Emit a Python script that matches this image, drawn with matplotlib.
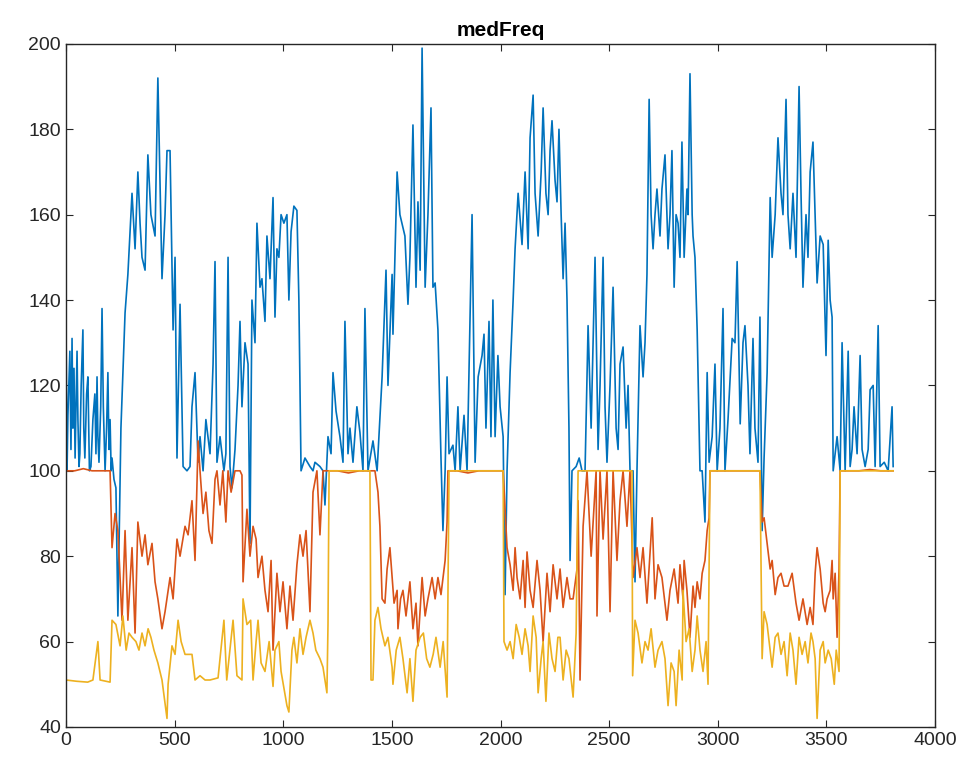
import matplotlib
matplotlib.use("Agg")
import matplotlib.pyplot as plt

# blue series
blue_x = [0, 5, 9, 18, 23, 28, 32, 37, 42, 51, 55, 60, 64, 70, 78, 82, 87, 95, 101, 108,
          115, 124, 133, 138, 143, 147, 152, 160, 166, 172, 180, 187, 193, 198, 203, 208, 212, 221, 230,
          239, 253, 272, 285, 304, 318, 331, 341, 350, 364, 377, 391, 410, 423, 442, 456, 465, 479, 493, 502,
          511, 525, 539, 557, 571, 580, 594, 608, 617, 631, 644, 663, 677, 686, 695, 709, 727, 736, 746, 755,
          764, 778, 792, 801, 810, 824, 838, 847, 856, 870, 879, 893, 902, 916, 925, 939, 953, 962, 971, 980,
          990, 1003, 1017, 1026, 1036, 1049, 1063, 1072, 1082, 1100, 1123, 1137, 1146, 1169, 1183, 1192, 1206, 1220, 1229, 1243,
          1261, 1275, 1284, 1298, 1307, 1321, 1339, 1353, 1367, 1376, 1390, 1413, 1432, 1455, 1473, 1482, 1501, 1505, 1524, 1537,
          1551, 1560, 1574, 1583, 1597, 1611, 1620, 1630, 1639, 1653, 1666, 1680, 1689, 1699, 1712, 1726, 1735, 1745, 1754, 1763,
          1781, 1791, 1804, 1814, 1832, 1846, 1869, 1883, 1897, 1915, 1924, 1933, 1947, 1956, 1965, 1975, 1988, 1998, 2012, 2021,
          2030, 2044, 2058, 2067, 2081, 2099, 2113, 2127, 2136, 2150, 2159, 2173, 2187, 2196, 2209, 2219, 2228, 2237, 2251, 2260,
          2269, 2279, 2288, 2297, 2306, 2315, 2320, 2329, 2348, 2362, 2375, 2389, 2403, 2417, 2435, 2449, 2458, 2472, 2481, 2490,
          2504, 2518, 2532, 2541, 2550, 2564, 2578, 2587, 2596, 2610, 2619, 2628, 2642, 2656, 2665, 2674, 2684, 2693, 2702, 2711,
          2720, 2734, 2743, 2757, 2771, 2780, 2789, 2799, 2808, 2817, 2826, 2835, 2845, 2858, 2863, 2872, 2882, 2886, 2895, 2905,
          2918, 2928, 2941, 2951, 2960, 2974, 2987, 2997, 3010, 3024, 3033, 3047, 3066, 3079, 3089, 3103, 3116, 3125, 3139, 3148,
          3162, 3171, 3185, 3194, 3204, 3213, 3227, 3241, 3250, 3264, 3277, 3291, 3300, 3314, 3323, 3333, 3346, 3360, 3374, 3383,
          3392, 3406, 3415, 3425, 3438, 3448, 3457, 3471, 3485, 3498, 3508, 3517, 3526, 3531, 3540, 3549, 3563, 3572, 3586, 3600,
          3609, 3618, 3627, 3641, 3655, 3664, 3678, 3692, 3701, 3715, 3724, 3738, 3747, 3766, 3784, 3802, 3807]
blue_y = [136, 100, 113, 128, 105, 131, 110, 124, 103, 128, 112, 101, 104, 120, 133, 110, 103, 118, 122, 100,
          101, 112, 118, 104, 122, 108, 102, 115, 138, 115, 100, 110, 123, 105, 112, 100, 103, 98, 96,
          66, 110, 137, 146, 165, 152, 170, 158, 150, 147, 174, 160, 155, 192, 145, 160, 175, 175, 133, 150,
          103, 139, 101, 100, 101, 115, 123, 102, 108, 100, 112, 104, 125, 149, 102, 108, 100, 104, 150, 101,
          96, 105, 120, 135, 115, 130, 125, 83, 140, 130, 158, 143, 145, 135, 155, 145, 164, 136, 152, 150,
          160, 158, 160, 140, 156, 162, 161, 140, 100, 103, 101, 100, 102, 101, 100, 92, 108, 104, 123, 114,
          108, 102, 135, 104, 110, 102, 115, 109, 100, 138, 100, 107, 100, 122, 147, 120, 146, 132, 170, 160,
          157, 155, 139, 150, 181, 143, 163, 147, 199, 143, 160, 185, 143, 144, 133, 103, 86, 100, 122, 104,
          106, 100, 115, 100, 113, 100, 160, 102, 122, 127, 132, 110, 135, 108, 140, 108, 127, 115, 108, 71,
          100, 123, 140, 152, 165, 153, 170, 152, 178, 188, 165, 155, 170, 185, 165, 160, 175, 182, 168, 163,
          180, 160, 145, 158, 140, 110, 79, 100, 101, 103, 100, 100, 134, 110, 150, 105, 120, 150, 115, 102,
          120, 143, 110, 105, 125, 129, 110, 120, 100, 100, 74, 100, 134, 122, 130, 146, 187, 160, 152, 160,
          166, 155, 166, 174, 152, 160, 175, 143, 160, 158, 150, 177, 150, 166, 160, 193, 160, 155, 150, 133,
          100, 100, 88, 123, 102, 108, 125, 100, 110, 138, 100, 112, 131, 130, 149, 111, 130, 134, 120, 104,
          131, 110, 102, 136, 86, 103, 123, 164, 150, 160, 178, 165, 160, 187, 160, 152, 165, 150, 190, 165,
          143, 160, 150, 170, 177, 160, 144, 155, 153, 127, 154, 140, 136, 100, 104, 108, 100, 130, 100, 128,
          101, 105, 115, 104, 127, 105, 101, 105, 119, 120, 101, 134, 101, 102, 100, 115, 101]

# orange series
orange_x = [0, 40, 80, 120, 160, 203, 212, 226, 239, 258, 272, 285, 304, 318, 331, 350, 364, 377, 396, 410,
            423, 442, 456, 479, 493, 511, 525, 548, 562, 580, 594, 608, 617, 631, 644, 658, 672, 686, 695, 709,
            722, 736, 746, 760, 778, 801, 810, 815, 833, 847, 861, 875, 884, 902, 916, 930, 944, 953, 971, 985,
            999, 1017, 1031, 1045, 1063, 1077, 1091, 1105, 1123, 1137, 1155, 1169, 1183, 1250, 1300, 1350, 1422, 1436, 1445, 1455,
            1468, 1478, 1491, 1501, 1510, 1524, 1528, 1540, 1551, 1565, 1583, 1597, 1611, 1620, 1639, 1653, 1666, 1685, 1699, 1712,
            1726, 1745, 1754, 1758, 1800, 1850, 1900, 1950, 2012, 2030, 2044, 2058, 2067, 2076, 2090, 2104, 2113, 2122, 2136, 2150,
            2168, 2182, 2196, 2214, 2228, 2242, 2260, 2274, 2288, 2306, 2320, 2334, 2352, 2357, 2366, 2380, 2398, 2417, 2440, 2444,
            2458, 2472, 2490, 2504, 2518, 2536, 2550, 2564, 2582, 2596, 2610, 2628, 2642, 2656, 2674, 2698, 2711, 2725, 2743, 2766,
            2780, 2799, 2817, 2826, 2840, 2845, 2858, 2872, 2886, 2895, 2905, 2918, 2928, 2941, 2951, 2960, 2964, 3050, 3100, 3194,
            3204, 3213, 3227, 3241, 3250, 3264, 3277, 3291, 3305, 3323, 3342, 3360, 3374, 3392, 3411, 3425, 3438, 3448, 3457, 3471,
            3485, 3494, 3503, 3517, 3526, 3531, 3540, 3549, 3558, 3563, 3650, 3700, 3750, 3807]
orange_y = [100, 100, 100.5, 100, 100, 100, 82, 90, 86, 65, 86, 65, 82, 62, 88, 80, 85, 78, 83, 74,
            70, 63, 67, 75, 70, 84, 80, 87, 85, 93, 79, 107, 100, 90, 95, 86, 83, 98, 100, 92,
            100, 88, 100, 95, 100, 100, 99, 74, 91, 80, 87, 84, 75, 80, 72, 67, 79, 58, 76, 67,
            74, 63, 73, 65, 78, 85, 80, 86, 67, 95, 100, 85, 100, 100, 99.5, 100, 100, 95, 87, 70,
            69, 77, 82, 75, 69, 72, 63, 70, 72, 66, 74, 63, 69, 59, 75, 66, 70, 75, 70, 75,
            71, 79, 88, 100, 100, 99.5, 100, 100, 100, 82, 78, 72, 82, 75, 70, 79, 68, 81, 72, 68,
            79, 72, 60, 76, 67, 78, 70, 77, 68, 75, 70, 70, 77, 93, 51, 87, 100, 80, 100, 66,
            100, 84, 100, 67, 100, 79, 93, 100, 87, 100, 75, 82, 75, 82, 69, 89, 70, 78, 75, 65,
            72, 77, 69, 78, 70, 79, 72, 61, 73, 68, 74, 70, 76, 79, 86, 89, 100, 100, 100, 100,
            88, 89, 83, 77, 79, 71, 75, 76, 73, 73, 76, 69, 65, 70, 64, 68, 64, 76, 82, 77,
            69, 67, 70, 72, 79, 70, 76, 61, 77, 100, 100, 100.3, 100, 100]

# yellow series
yellow_x = [0, 50, 100, 124, 147, 157, 203, 212, 230, 249, 262, 277, 290, 304, 322, 336, 350, 364, 378, 391,
            405, 423, 442, 465, 470, 488, 502, 516, 530, 548, 580, 594, 617, 640, 663, 700, 727, 740, 769, 787,
            810, 815, 833, 850, 861, 875, 884, 898, 916, 935, 953, 962, 980, 990, 1017, 1026, 1040, 1049, 1063, 1077,
            1091, 1105, 1123, 1137, 1150, 1169, 1183, 1201, 1206, 1211, 1300, 1399, 1404, 1413, 1422, 1436, 1450, 1468, 1482, 1501,
            1505, 1520, 1537, 1551, 1570, 1583, 1597, 1611, 1630, 1645, 1660, 1675, 1690, 1703, 1722, 1736, 1754, 1763, 1850, 2012,
            2016, 2030, 2044, 2058, 2072, 2086, 2099, 2113, 2127, 2136, 2150, 2164, 2173, 2187, 2196, 2209, 2223, 2237, 2251, 2264,
            2274, 2288, 2302, 2315, 2334, 2348, 2357, 2450, 2605, 2608, 2619, 2633, 2651, 2665, 2679, 2693, 2711, 2725, 2743, 2757,
            2771, 2785, 2799, 2808, 2822, 2836, 2840, 2854, 2868, 2882, 2895, 2905, 2918, 2932, 2946, 2955, 2964, 3100, 3194, 3204,
            3213, 3227, 3241, 3250, 3264, 3277, 3291, 3305, 3319, 3333, 3346, 3360, 3374, 3388, 3402, 3415, 3429, 3438, 3448, 3457,
            3471, 3485, 3494, 3508, 3522, 3536, 3545, 3558, 3563, 3700, 3807]
yellow_y = [51, 50.7, 50.5, 51, 60, 51, 50.5, 65, 64, 59, 66, 58, 62, 61, 60, 58, 62, 59, 63, 61,
            58, 55, 51, 42, 50, 59, 57, 65, 60, 57, 57, 51, 52, 51, 51, 51.5, 65, 51, 65, 52,
            51, 70, 64, 65, 51, 60, 65, 55, 53, 60, 49.5, 58, 60, 53, 45, 43.5, 58, 61, 55, 63,
            57, 61, 65, 62, 58, 56, 54, 48, 64, 100, 100, 100, 51, 51, 65, 68, 63, 59, 61, 54,
            50, 58, 61, 56, 48, 56, 46, 58, 61, 62, 56, 54, 57, 61, 54, 60, 47, 100, 100, 100,
            60, 58, 60, 56, 64, 61, 57, 63, 59, 53, 66, 61, 48, 56, 60, 46, 62, 56, 53, 61,
            61, 51, 58, 56, 47, 62, 100, 100, 100, 52, 65, 62, 55, 60, 58, 63, 54, 58, 60, 56,
            45, 55, 53, 45, 58, 51, 72, 60, 63, 53, 58, 66, 58, 53, 60, 50, 100, 100, 100, 56,
            67, 64, 58, 54, 61, 62, 57, 60, 52, 62, 58, 50, 61, 57, 60, 55, 62, 60, 56, 42,
            58, 60, 55, 58, 56, 50, 58, 53, 100, 100, 100]

x_ticks = [0, 500, 1000, 1500, 2000, 2500, 3000, 3500, 4000]
y_ticks = [40, 60, 80, 100, 120, 140, 160, 180, 200]

plt.rcParams['font.family'] = ['Liberation Sans', 'DejaVu Sans']

fig = plt.figure(figsize=(9.7, 7.78), dpi=100)
ax = fig.add_axes([0.068, 0.0656, 0.896, 0.878])

ax.plot(blue_x, blue_y, color='#0072BD', linewidth=1.2)
ax.plot(orange_x, orange_y, color='#D95319', linewidth=1.2)
ax.plot(yellow_x, yellow_y, color='#EDB120', linewidth=1.2)

ax.set_xlim(0, 4000)
ax.set_ylim(40, 200)
ax.set_xticks(x_ticks)
ax.set_yticks(y_ticks)
ax.tick_params(direction='in', top=True, right=True, labelsize=14, colors='#262626', length=5)
for s in ax.spines.values():
    s.set_color('#262626')
    s.set_linewidth(1.0)
ax.set_title('medFreq', fontsize=15, fontweight='bold', pad=6)

fig.savefig('out.png', dpi=100)
